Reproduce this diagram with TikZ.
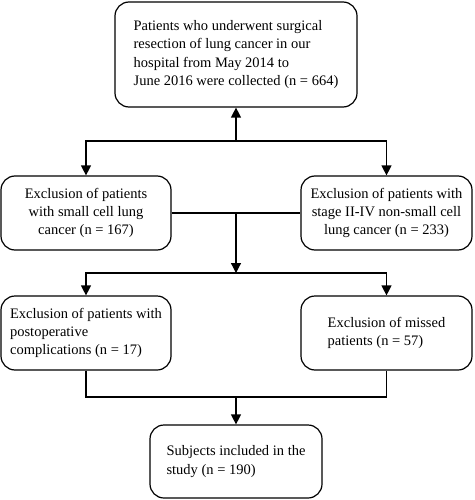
\documentclass[tikz,border=0pt]{standalone}
\usepackage{fontspec}
\setmainfont{Liberation Serif}
\usetikzlibrary{arrows.meta,positioning}
\tikzset{
    stagebox/.style={
        draw,
        rounded corners=14pt,
        line width=1.2pt,
        minimum height=74pt,
        font=\fontsize{14.5}{18.4}\selectfont
    },
    flowarr/.style={
        line width=1.2pt,
        -{Triangle[length=10pt,width=10pt]}
    },
    flowline/.style={
        line width=1.2pt
    }
}

\begin{document}
\begin{tikzpicture}[x=1pt,y=-1pt]
  \useasboundingbox (0,0) rectangle (474,500);

  \node[stagebox, minimum width=242pt, minimum height=105pt, align=left] (T) at (236,54.5)
    {Patients who underwent surgical\\resection of lung cancer in our\\hospital from May 2014 to\\June 2016 were collected (n = 664)};

  \node[stagebox, minimum width=170pt, align=center] (L1) at (86,213)
    {Exclusion of patients\\with small cell lung\\cancer (n = 167)};
  \node[stagebox, minimum width=171pt, align=center] (R1) at (386.5,213)
    {Exclusion of patients with\\stage II-IV non-small cell\\lung cancer (n = 233)};

  \node[stagebox, minimum width=170pt, align=left] (L2) at (86,333)
    {Exclusion of patients with\\postoperative\\complications (n = 17)};
  \node[stagebox, minimum width=171pt, align=left] (R2) at (386.5,333)
    {Exclusion of missed\\patients (n = 57)};

  \node[stagebox, minimum width=172pt, minimum height=73pt, align=left] (B) at (236,461.5)
    {Subjects included in the\\study (n = 190)};

  % junctions
  \coordinate (j1) at (236,141);
  \coordinate (j2) at (236,213);
  \coordinate (j3) at (236,273);
  \coordinate (j4) at (236,397);

  \draw[flowarr] (j1) -- (T);
  \draw[flowarr] (j1) -| (L1);
  \draw[flowarr] (j1) -| (R1);

  \draw[flowline] (L1.east) -- (R1.west);
  \draw[flowarr] (j2) -- (j3);
  \draw[flowarr] (j3) -| (L2);
  \draw[flowarr] (j3) -| (R2);

  \draw[flowline] (L2.south) |- (j4) -| (R2.south);
  \draw[flowarr] (j4) -- (B);

\end{tikzpicture}
\end{document}
